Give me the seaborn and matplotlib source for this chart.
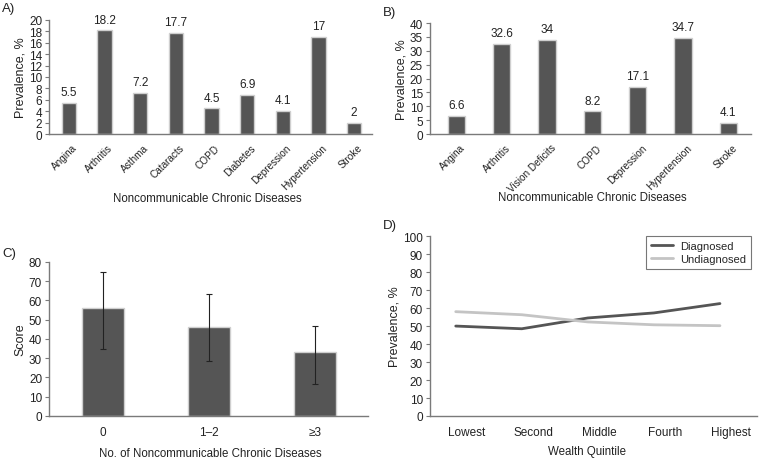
import numpy as np
import pandas as pd
import matplotlib.pyplot as plt
import seaborn as sns

sns.set_style("white")
plt.rcParams['font.family'] = ['Liberation Sans', 'DejaVu Sans']
plt.rcParams['font.size'] = 8

# panel A
diseases_a = ["Angina", "Arthritis", "Asthma", "Cataracts", "COPD", "Diabetes",
              "Depression", "Hypertension", "Stroke"]
prev_a = [5.5, 18.2, 7.2, 17.7, 4.5, 6.9, 4.1, 17, 2]

# panel B
diseases_b = ["Angina", "Arthritis", "Vision Deficits", "COPD", "Depression",
              "Hypertension", "Stroke"]
prev_b = [6.6, 32.6, 34, 8.2, 17.1, 34.7, 4.1]

# panel C
ncd_groups = ["0", "1\u20132", "\u22653"]
score_mean = [56, 46.3, 33.3]
score_low = [35, 28.8, 16.8]
score_high = [75, 63.3, 46.5]

# panel D
quintiles = ["Lowest", "Second", "Middle", "Fourth", "Highest"]
diagnosed = [50, 48.5, 54.5, 57.3, 62.5]
undiagnosed = [58, 56.3, 52.3, 50.7, 50.2]

bar_color = "#555555"
edge_color = "#cfcfcf"
axis_color = "#7a7a7a"
text_color = "#222222"

fig = plt.figure(figsize=(7.67, 4.6), dpi=100)


def style_axes(ax):
    for s in ["top", "right"]:
        ax.spines[s].set_visible(False)
    for s in ["left", "bottom"]:
        ax.spines[s].set_color(axis_color)
        ax.spines[s].set_linewidth(1)
    ax.tick_params(axis="y", left=True, length=3, color=axis_color, pad=2,
                   labelsize=8.5, labelcolor=text_color)
    ax.tick_params(axis="x", bottom=False, labelsize=7.2, labelcolor=text_color, pad=2.5)


def bar_panel(ax, cats, vals, ymax, step, width, xlim):
    df = pd.DataFrame({"cat": cats, "val": vals})
    sns.barplot(data=df, x="cat", y="val", color=bar_color, width=width,
                edgecolor=edge_color, linewidth=1, saturation=1, ax=ax)
    for i, v in enumerate(vals):
        ax.text(i, v + ymax * 0.04, f"{v:g}", ha="center", va="bottom",
                fontsize=8.5, color=text_color)
    ax.set_ylim(0, ymax)
    ax.set_yticks(np.arange(0, ymax + 1, step))
    ax.set_xlim(*xlim)
    ax.set_xlabel("")
    ax.set_ylabel("Prevalence, %", fontsize=9, color=text_color, labelpad=2)
    ax.set_xticks(np.arange(len(cats)) + 0.08)
    ax.set_xticklabels(cats, rotation=45, ha="right", rotation_mode="anchor")
    style_axes(ax)


# A
axA = fig.add_axes([0.0639, 0.7065, 0.421, 0.248])
bar_panel(axA, diseases_a, prev_a, 20, 2, 0.4, (-0.555, 8.5))
fig.text(0.27, 1 - 199 / 460, "Noncommunicable Chronic Diseases", ha="center",
         va="center", fontsize=8.3, color=text_color)
fig.text(0.003, 1 - 9 / 460, "A)", ha="left", va="center", fontsize=9.5, color=text_color)

# B
axB = fig.add_axes([0.5606, 0.7065, 0.4185, 0.2413])
bar_panel(axB, diseases_b, prev_b, 40, 5, 0.38, (-0.58, 6.5))
fig.text(0.772, 1 - 198 / 460, "Noncommunicable Chronic Diseases", ha="center",
         va="center", fontsize=8.3, color=text_color)
fig.text(0.499, 1 - 13 / 460, "B)", ha="left", va="center", fontsize=9.5, color=text_color)

# C
axC = fig.add_axes([0.0639, 0.0935, 0.416, 0.3348])
dfc = pd.DataFrame({"grp": ncd_groups, "score": score_mean})
sns.barplot(data=dfc, x="grp", y="score", color=bar_color, width=0.39,
            edgecolor=edge_color, linewidth=1, saturation=1, ax=axC)
yerr = [np.array(score_mean) - np.array(score_low),
        np.array(score_high) - np.array(score_mean)]
axC.errorbar(range(3), score_mean, yerr=yerr, fmt="none", ecolor="#222222",
             elinewidth=0.8, capsize=2.5, capthick=0.8)
axC.set_ylim(0, 80)
axC.set_yticks(np.arange(0, 81, 10))
axC.set_xlim(-0.51, 2.5)
axC.set_xlabel("")
axC.set_ylabel("Score", fontsize=9, color=text_color, labelpad=2)
style_axes(axC)
axC.tick_params(axis="x", labelsize=8.5, pad=4)
fig.text(0.274, 1 - 454 / 460, "No. of Noncommunicable Chronic Diseases",
         ha="center", va="center", fontsize=8.3, color=text_color)
fig.text(0.003, 1 - 254 / 460, "C)", ha="left", va="center", fontsize=9.5, color=text_color)

# D
axD = fig.add_axes([0.5606, 0.0935, 0.4263, 0.391])
dfd = pd.DataFrame({"x": list(range(5)) * 2,
                    "val": diagnosed + undiagnosed,
                    "status": ["Diagnosed"] * 5 + ["Undiagnosed"] * 5})
sns.lineplot(data=dfd, x="x", y="val", hue="status",
             palette={"Diagnosed": "#555555", "Undiagnosed": "#c4c4c4"},
             linewidth=2, ax=axD)
axD.set_ylim(0, 100)
axD.set_yticks(np.arange(0, 101, 10))
axD.set_xlim(-0.39, 4.56)
axD.set_xticks(np.arange(5) + 0.17)
axD.set_xticklabels(quintiles)
axD.set_xlabel("")
axD.set_ylabel("Prevalence, %", fontsize=9, color=text_color, labelpad=2)
style_axes(axD)
axD.tick_params(axis="x", labelsize=8.5, pad=4)
leg = axD.legend(title=None, loc="upper right", bbox_to_anchor=(0.982, 1.0),
                 borderaxespad=0, frameon=True, fancybox=False, fontsize=8,
                 handlelength=2.0, handletextpad=0.6, borderpad=0.45,
                 labelspacing=0.25)
leg.get_frame().set_edgecolor("#555555")
leg.get_frame().set_linewidth(0.8)
fig.text(0.765, 1 - 452 / 460, "Wealth Quintile", ha="center", va="center",
         fontsize=8.3, color=text_color)
fig.text(0.499, 1 - 226 / 460, "D)", ha="left", va="center", fontsize=9.5, color=text_color)

fig.savefig("out.png", dpi=100)
